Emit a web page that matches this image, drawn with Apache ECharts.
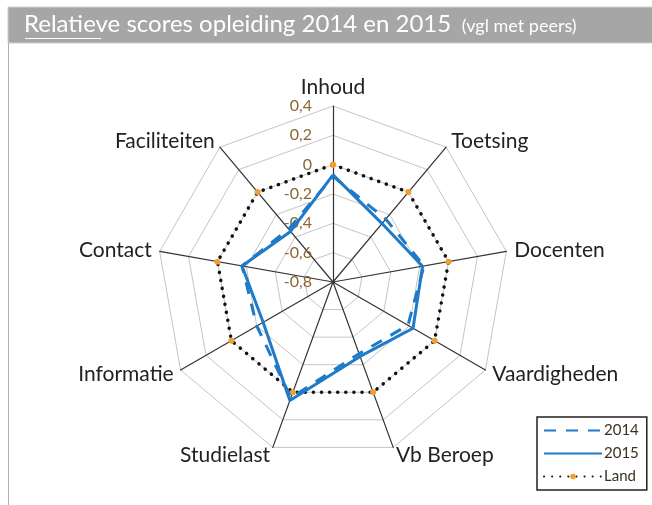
<!DOCTYPE html>
<html>
<head>
<meta charset="utf-8">
<script src="https://cdn.jsdelivr.net/npm/echarts@6/dist/echarts.min.js"></script>
<style>
  html, body { margin: 0; padding: 0; background: #fff; }
  #myChart { width: 652px; height: 505px; }
</style>
</head>
<body>
<div id="myChart"></div>
<script>
const categories = ['Inhoud', 'Toetsing', 'Docenten', 'Vaardigheden', 'Vb Beroep', 'Studielast', 'Informatie', 'Contact', 'Faciliteiten']
const scores2014 = [-0.08, -0.24, -0.17, -0.21, -0.28, 0.04, -0.20, -0.17, -0.33]
const scores2015 = [-0.07, -0.28, -0.18, -0.17, -0.26, 0.06, -0.25, -0.17, -0.35]
const scoresLand = [0, 0, 0, 0, 0, 0, 0, 0, 0]
const seriesNames = ['2014', '2015', 'Land']
const scaleMin = -0.8
const scaleMax = 0.4
const scaleStep = 0.2

const font = 'Lato'
const center = [333, 282]
const radius = 176

// polar points [radius value, angle index], closed back to the first category
function toPolar (values) {
  const pts = values.map((v, i) => [v, i])
  pts.push([values[0], values.length])
  return pts
}

function fmt (v) {
  const r = Math.round(v * 10) / 10
  return r === 0 ? '0' : r.toFixed(1).replace('.', ',')
}

// radar lays indicators out counter-clockwise, the data goes clockwise
const radarOrder = [categories[0]].concat(categories.slice(1).reverse())

const myChart = echarts.init(document.getElementById('myChart'))
myChart.setOption({
  animation: false,
  textStyle: { fontFamily: font },
  graphic: [
    { type: 'rect', shape: { x: 8, y: 7, width: 650, height: 36 }, style: { fill: '#a6a6a6', stroke: '#cfcfcf', lineWidth: 1 }, z: -1 },
    { type: 'line', shape: { x1: 8.5, y1: 43, x2: 8.5, y2: 505 }, style: { stroke: '#b0b0b0', lineWidth: 1 } },
    { type: 'line', shape: { x1: 25, y1: 38.5, x2: 101, y2: 38.5 }, style: { stroke: '#fff', lineWidth: 1 } }
  ],
  title: {
    left: 24,
    top: 12,
    padding: 0,
    text: '{a|Relatieve scores opleiding 2014 en 2015} {b|(vgl met peers)}',
    textStyle: {
      fontWeight: 'normal',
      rich: {
        a: { color: '#fff', fontSize: 24, fontFamily: font, fontWeight: 'normal' },
        b: { color: '#fff', fontSize: 18, fontFamily: font, fontWeight: 'normal', padding: [4, 0, 0, 6] }
      }
    }
  },
  legend: {
    orient: 'vertical',
    left: 537,
    top: 417,
    data: [
      { name: seriesNames[0], itemStyle: { opacity: 0 } },
      { name: seriesNames[1], itemStyle: { opacity: 0 } },
      { name: seriesNames[2] }
    ],
    padding: [6, 8, 6, 6],
    itemWidth: 58,
    itemHeight: 7,
    itemGap: 8,
    borderColor: '#222',
    borderWidth: 1.5,
    backgroundColor: '#fff',
    textStyle: { color: '#3a3020', fontSize: 15, fontFamily: font, padding: [0, 0, 0, -3] }
  },
  radar: {
    center: center,
    radius: radius,
    startAngle: 90,
    shape: 'polygon',
    splitNumber: 6,
    indicator: radarOrder.map(c => ({ name: c, min: scaleMin, max: scaleMax })),
    axisName: { color: '#222', fontSize: 21, fontFamily: font },
    nameGap: 8,
    axisLine: { lineStyle: { color: '#333', width: 1.2 } },
    splitLine: { lineStyle: { color: '#c4c4c4', width: 1 } },
    splitArea: { show: false },
    axisTick: { show: false },
    axisLabel: { show: false }
  },
  polar: { center: center, radius: radius },
  angleAxis: {
    type: 'value',
    min: 0,
    max: categories.length,
    startAngle: 90,
    clockwise: true,
    axisLine: { show: false },
    axisTick: { show: false },
    axisLabel: { show: false },
    splitLine: { show: false }
  },
  radiusAxis: {
    type: 'value',
    min: scaleMin,
    max: scaleMax,
    interval: scaleStep,
    axisLine: { show: false },
    axisTick: { show: false },
    splitLine: { show: false },
    axisLabel: {
      color: '#8a6634',
      fontSize: 16,
      fontFamily: font,
      margin: 21,
      formatter: fmt
    }
  },
  series: [
    {
      name: seriesNames[0],
      type: 'line',
      coordinateSystem: 'polar',
      data: toPolar(scores2014),
      symbol: 'none',
      lineStyle: { color: '#1f7ac8', width: 3, type: [12, 10] },
      itemStyle: { color: '#1f7ac8' },
      z: 3
    },
    {
      name: seriesNames[1],
      type: 'line',
      coordinateSystem: 'polar',
      data: toPolar(scores2015),
      symbol: 'none',
      lineStyle: { color: '#1f7ac8', width: 3 },
      itemStyle: { color: '#1f7ac8' },
      z: 4
    },
    {
      name: seriesNames[2],
      type: 'line',
      coordinateSystem: 'polar',
      data: toPolar(scoresLand),
      symbol: 'circle',
      symbolSize: 6,
      lineStyle: { color: '#111', width: 3.5, type: [0.1, 8], cap: 'round' },
      itemStyle: { color: '#f0a030', borderWidth: 0 },
      z: 2
    }
  ]
})
</script>
</body>
</html>
